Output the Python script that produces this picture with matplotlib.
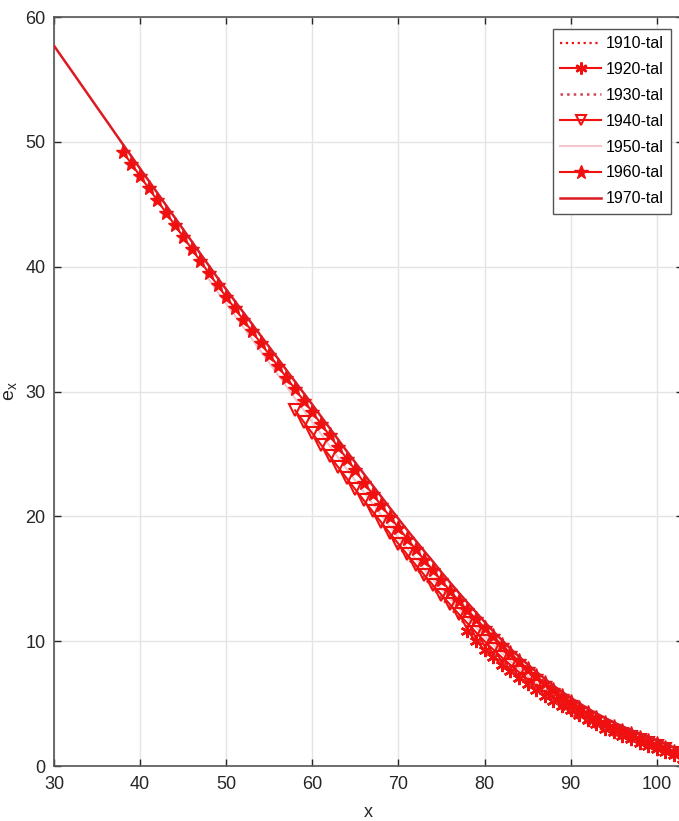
import matplotlib
matplotlib.use("Agg")
import matplotlib.pyplot as plt
from matplotlib import font_manager

names = {f.name for f in font_manager.fontManager.ttflist}
fam = [n for n in ["Liberation Sans Narrow", "Liberation Sans", "DejaVu Sans"] if n in names]
plt.rcParams["font.family"] = fam

# ---------------- data (remaining life expectancy e_x by age x) ----------------
ages_1970 = list(range(30, 104))
e_1970 = [57.7, 56.71, 55.73, 54.74, 53.75, 52.76, 51.78, 50.79, 49.8,
          48.83, 47.85, 46.88, 45.91, 44.93, 43.96, 42.99, 42.02, 41.04, 40.07, 39.1,
          38.18, 37.25, 36.33, 35.41, 34.48, 33.56, 32.64, 31.71, 30.79, 29.87, 28.95,
          28.01, 27.08, 26.15, 25.22, 24.3, 23.39, 22.48, 21.58, 20.68, 19.8,
          18.92, 18.06, 17.21, 16.38, 15.52, 14.7, 13.89, 13.1, 12.32, 11.55,
          10.8, 10.09, 9.4, 8.76, 8.14, 7.55, 6.98, 6.44, 5.94, 5.48,
          5.03, 4.6, 4.21, 3.85, 3.5, 3.18, 2.88, 2.6, 2.33, 2.08,
          1.79, 1.48, 1.16]

ages_1960 = list(range(38, 104))
e_1960 = [49.2, 48.23, 47.25, 46.28, 45.31, 44.33, 43.36, 42.39, 41.42, 40.44, 39.47, 38.5,
          37.58, 36.65, 35.73, 34.81, 33.88, 32.96, 32.04, 31.11, 30.19, 29.27, 28.35,
          27.41, 26.48, 25.55, 24.62, 23.7, 22.69, 21.78, 20.88, 19.98, 19.1,
          18.22, 17.36, 16.51, 15.68, 14.86, 14.03, 13.25, 12.5, 11.78, 11.08,
          10.38, 9.71, 9.04, 8.4, 7.78, 7.19, 6.62, 6.08, 5.58, 5.12,
          4.66, 4.23, 3.83, 3.46, 3.13, 2.82, 2.53, 2.25, 1.99, 1.74,
          1.46, 1.15, 0.83]

ages_1950 = list(range(48, 104))
e_1950 = [38.97, 37.98, 37.03, 36.08, 35.13, 34.19, 33.23, 32.29, 31.34, 30.39, 29.44, 28.5, 27.55,
          26.6, 25.66, 24.72, 23.78, 22.85, 21.93, 21.01, 20.1, 19.19, 18.3,
          17.44, 16.6, 15.77, 14.96, 14.16, 13.38, 12.61, 11.86, 11.12, 10.4,
          9.71, 9.05, 8.41, 7.8, 7.21, 6.65, 6.11, 5.6, 5.13, 4.7,
          4.28, 3.89, 3.53, 3.2, 2.89, 2.6, 2.33, 2.07, 1.83, 1.6,
          1.33, 1.04, 0.75]

ages_1940 = list(range(58, 104))
e_1940 = [28.49, 27.57, 26.65,
          25.74, 24.84, 23.94, 23.04, 22.15, 21.27, 20.39, 19.52, 18.65, 17.8,
          16.95, 16.12, 15.3, 14.5, 13.71, 12.94, 12.18, 11.44, 10.71, 10.0,
          9.34, 8.71, 8.1, 7.52, 6.96, 6.43, 5.92, 5.44, 5.0, 4.6,
          4.19, 3.81, 3.46, 3.14, 2.84, 2.56, 2.3, 2.05, 1.82, 1.6,
          1.33, 1.05, 0.75]

ages_1930 = list(range(68, 104))
e_1930 = [19.38, 18.48, 17.6,
          16.74, 15.9, 15.07, 14.26, 13.46, 12.68, 11.91, 11.16, 10.42, 9.7,
          9.05, 8.43, 7.83, 7.26, 6.71, 6.19, 5.69, 5.22, 4.79, 4.4,
          4.0, 3.63, 3.29, 2.98, 2.69, 2.42, 2.17, 1.93, 1.71, 1.5,
          1.25, 0.98, 0.7]

ages_1920 = list(range(78, 104))
e_1920 = [10.8, 10.04, 9.3,
          8.7, 8.13, 7.58, 7.06, 6.56, 6.09, 5.64, 5.22, 4.84, 4.5,
          4.08, 3.69, 3.33, 3.0, 2.69, 2.4, 2.13, 1.87, 1.63, 1.4,
          1.15, 0.88, 0.6]

ages_1910 = list(range(88, 104))
e_1910 = [5.06, 4.61, 4.2,
          3.81, 3.45, 3.12, 2.82, 2.54, 2.28, 2.04, 1.81, 1.6, 1.4,
          1.15, 0.88, 0.6]

labels = ["1910-tal", "1920-tal", "1930-tal", "1940-tal", "1950-tal", "1960-tal", "1970-tal"]
x_ticks = [30, 40, 50, 60, 70, 80, 90, 100]
y_ticks = [0, 10, 20, 30, 40, 50, 60]

# ---------------- figure ----------------
fig = plt.figure(figsize=(6.79, 8.21), dpi=100)
ax = fig.add_axes([54 / 679, 55 / 821, (682.6 - 54) / 679, (766 - 17) / 821])

red = "#f01010"
ax.plot(ages_1910, e_1910, linestyle=":", color=red, lw=1.6, label=labels[0], zorder=3)
ax.plot(ages_1920, e_1920, linestyle="-", color=red, lw=1.5, marker=(6, 2, 0),
        ms=9.5, mew=1.8, mec=red, label=labels[1], zorder=3)
ax.plot(ages_1930, e_1930, linestyle=":", color="#d04050", lw=1.8, label=labels[2], zorder=3)
ax.plot(ages_1940, e_1940, linestyle="-", color=red, lw=1.5, marker="v",
        ms=8.5, mew=1.5, mfc="none", mec=red, label=labels[3], zorder=3)
ax.plot(ages_1950, e_1950, linestyle="-", color="#f2c6cc", lw=1.5, label=labels[4], zorder=2)
ax.plot(ages_1960, e_1960, linestyle="-", color=red, lw=1.5, marker="*",
        ms=11, mew=1.0, mfc=red, mec=red, label=labels[5], zorder=3)
ax.plot(ages_1970, e_1970, linestyle="-", color="#dd1a22", lw=1.8, label=labels[6], zorder=4)

ax.set_xlim(30, 103)
ax.set_ylim(0, 60)
ax.set_xticks(x_ticks)
ax.set_yticks(y_ticks)
ax.grid(True, color="#e4e4e4", lw=1.0)
ax.set_axisbelow(True)
ax.tick_params(direction="in", length=5, width=1.0, top=True, right=True,
               labelsize=13, colors="#262626")
ax.tick_params(axis="x", pad=7)
ax.tick_params(axis="y", pad=6)
for s in ax.spines.values():
    s.set_color("#555555")
    s.set_linewidth(1.2)

ax.set_xlabel("x", fontsize=13, color="#262626", labelpad=8)
ax.set_ylabel("e$_{\\mathregular{x}}$", fontsize=14, color="#262626", labelpad=4)

leg = ax.legend(loc="upper right", fontsize=11.5, frameon=True, fancybox=False,
                edgecolor="#555555", framealpha=1.0, handlelength=2.6,
                handletextpad=0.25, labelspacing=0.68, borderpad=0.45,
                borderaxespad=0.75, markerscale=0.9)
leg.get_frame().set_linewidth(1.0)

fig.savefig("out.png", dpi=100)
